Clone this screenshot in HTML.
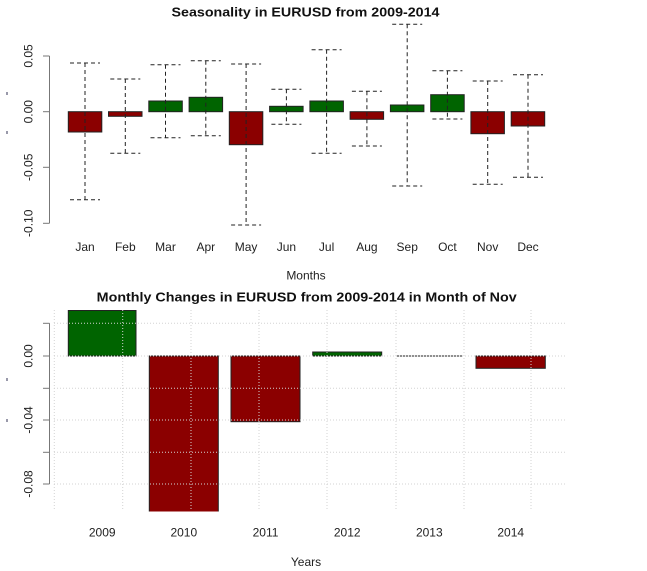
<!DOCTYPE html>
<html><head><meta charset="utf-8"><style>
html,body{margin:0;padding:0;background:#fff;}
svg{display:block;}
text{font-family:"Liberation Sans",Arial,sans-serif;fill:#222;}
</style></head><body>
<svg width="647" height="571" viewBox="0 0 647 571" xmlns="http://www.w3.org/2000/svg">
<rect width="647" height="571" fill="#fff"/>
<!-- left tiny marks -->
<rect x="6.5" y="92" width="1" height="3" fill="#335"/>
<rect x="6.5" y="131" width="1" height="3" fill="#335"/>
<rect x="6.5" y="378" width="1" height="3" fill="#335"/>
<rect x="6.5" y="419" width="1" height="3" fill="#335"/>

<!-- TOP CHART -->
<text x="305.5" y="16.5" font-size="13" font-weight="bold" text-anchor="middle" textLength="268" lengthAdjust="spacingAndGlyphs" style="fill:#111">Seasonality in EURUSD from 2009-2014</text>
<g stroke="#777" stroke-width="1">
<line x1="49.5" y1="56" x2="49.5" y2="223.3"/>
<line x1="43" y1="56" x2="49.5" y2="56"/>
<line x1="43" y1="111.7" x2="49.5" y2="111.7"/>
<line x1="43" y1="167.3" x2="49.5" y2="167.3"/>
<line x1="43" y1="223.3" x2="49.5" y2="223.3"/>
</g>
<g font-size="12" text-anchor="middle">
<text transform="translate(32.5,56) rotate(-90)">0.05</text>
<text transform="translate(32.5,111.7) rotate(-90)">0.00</text>
<text transform="translate(32.5,167.3) rotate(-90)">-0.05</text>
<text transform="translate(32.5,223.3) rotate(-90)">-0.10</text>
</g>
<g stroke="#222" stroke-width="1">
<rect x="68.3" y="111.7" width="33.5" height="20.3" fill="#8B0000"/>
<rect x="108.5" y="111.7" width="33.5" height="4.6" fill="#8B0000"/>
<rect x="148.8" y="101" width="33.5" height="10.7" fill="#006400"/>
<rect x="189.1" y="97.3" width="33.5" height="14.4" fill="#006400"/>
<rect x="229.3" y="111.7" width="33.5" height="33" fill="#8B0000"/>
<rect x="269.6" y="106.3" width="33.5" height="5.4" fill="#006400"/>
<rect x="309.9" y="101" width="33.5" height="10.7" fill="#006400"/>
<rect x="350.1" y="111.7" width="33.5" height="7.6" fill="#8B0000"/>
<rect x="390.4" y="105" width="33.5" height="6.7" fill="#006400"/>
<rect x="430.7" y="94.7" width="33.5" height="17" fill="#006400"/>
<rect x="470.9" y="111.7" width="33.5" height="22" fill="#8B0000"/>
<rect x="511.2" y="111.7" width="33.5" height="14.3" fill="#8B0000"/>
</g>
<g stroke="#222" stroke-width="1" stroke-dasharray="4,3" fill="none">
<path d="M85,63V199.7M70,63H100M70,199.7H100"/>
<path d="M125.3,79V153.3M110.3,79H140.3M110.3,153.3H140.3"/>
<path d="M165.5,64.7V137.7M150.5,64.7H180.5M150.5,137.7H180.5"/>
<path d="M205.8,60.7V135.7M190.8,60.7H220.8M190.8,135.7H220.8"/>
<path d="M246.1,64V225M231.1,64H261.1M231.1,225H261.1"/>
<path d="M286.4,89.3V124.3M271.4,89.3H301.4M271.4,124.3H301.4"/>
<path d="M326.6,49.7V153.3M311.6,49.7H341.6M311.6,153.3H341.6"/>
<path d="M366.9,91.3V146M351.9,91.3H381.9M351.9,146H381.9"/>
<path d="M407.2,24.3V186M392.2,24.3H422.2M392.2,186H422.2"/>
<path d="M447.4,70.7V119M432.4,70.7H462.4M432.4,119H462.4"/>
<path d="M487.7,81V184.3M472.7,81H502.7M472.7,184.3H502.7"/>
<path d="M528,74.7V177.3M513,74.7H543M513,177.3H543"/>
</g>
<g font-size="12" text-anchor="middle">
<text x="85" y="251">Jan</text>
<text x="125.3" y="251">Feb</text>
<text x="165.5" y="251">Mar</text>
<text x="205.8" y="251">Apr</text>
<text x="246.1" y="251">May</text>
<text x="286.4" y="251">Jun</text>
<text x="326.6" y="251">Jul</text>
<text x="366.9" y="251">Aug</text>
<text x="407.2" y="251">Sep</text>
<text x="447.4" y="251">Oct</text>
<text x="487.7" y="251">Nov</text>
<text x="528" y="251">Dec</text>
<text x="306" y="279.5">Months</text>
</g>

<!-- BOTTOM CHART -->
<text x="306.7" y="301.5" font-size="13" font-weight="bold" text-anchor="middle" textLength="420" lengthAdjust="spacingAndGlyphs" style="fill:#111">Monthly Changes in EURUSD from 2009-2014 in Month of Nov</text>
<g stroke="#222" stroke-width="1">
<rect x="68.3" y="310.5" width="67.7" height="45.5" fill="#006400"/>
<rect x="149.3" y="356" width="69" height="156" fill="#8B0000"/>
<rect x="231" y="356" width="69" height="65.7" fill="#8B0000"/>
<rect x="312.7" y="352" width="69" height="4" fill="#006400"/>
<line x1="396" y1="356" x2="462.7" y2="356"/>
<rect x="476" y="356" width="69.3" height="12.3" fill="#8B0000"/>
</g>
<rect x="0" y="511.5" width="647" height="3" fill="#fff"/>
<g stroke="#d3d3d3" stroke-width="1" stroke-dasharray="1,2" fill="none">
<path d="M54,323.3H565M54,356H565M54,388.3H565M54,420H565M54,452.3H565M54,484H565"/>
<path d="M54.3,310V511M122.7,310V511M191,310V511M259,310V511M327,310V511M396,310V511M464,310V511M531,310V511"/>
</g>
<g stroke="#777" stroke-width="1">
<line x1="49.5" y1="323.3" x2="49.5" y2="484"/>
<line x1="43" y1="323.3" x2="49.5" y2="323.3"/>
<line x1="43" y1="356" x2="49.5" y2="356"/>
<line x1="43" y1="388.3" x2="49.5" y2="388.3"/>
<line x1="43" y1="420" x2="49.5" y2="420"/>
<line x1="43" y1="452.3" x2="49.5" y2="452.3"/>
<line x1="43" y1="484" x2="49.5" y2="484"/>
</g>
<g font-size="12" text-anchor="middle">
<text transform="translate(32.5,356) rotate(-90)">0.00</text>
<text transform="translate(32.5,420) rotate(-90)">-0.04</text>
<text transform="translate(32.5,484) rotate(-90)">-0.08</text>
</g>
<g font-size="12" text-anchor="middle">
<text x="102.2" y="536.5">2009</text>
<text x="183.8" y="536.5">2010</text>
<text x="265.5" y="536.5">2011</text>
<text x="347.2" y="536.5">2012</text>
<text x="429.3" y="536.5">2013</text>
<text x="510.7" y="536.5">2014</text>
<text x="306" y="566">Years</text>
</g>
</svg>
</body></html>
